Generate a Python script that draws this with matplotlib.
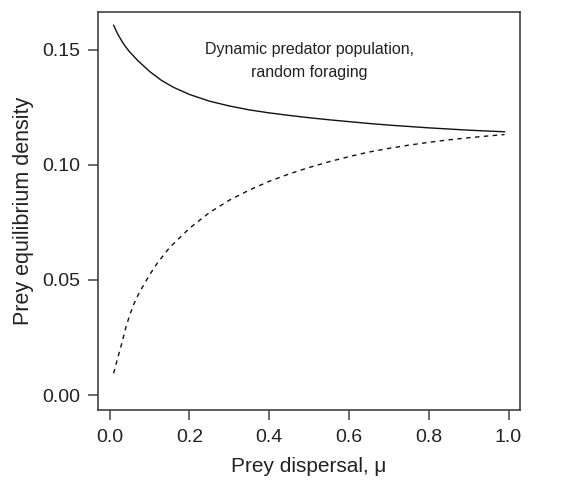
import matplotlib
matplotlib.use("Agg")
import matplotlib.pyplot as plt

# Prey dispersal (mu) values
mu_solid = [0.01, 0.02, 0.03, 0.04, 0.05, 0.07, 0.10, 0.13, 0.16, 0.20, 0.25, 0.30,
            0.35, 0.40, 0.45, 0.50, 0.55, 0.60, 0.65, 0.70, 0.75, 0.80, 0.85, 0.90,
            0.95, 0.99]
dens_solid = [0.1605, 0.1568, 0.1538, 0.1512, 0.1490, 0.1453, 0.1405, 0.1366, 0.1336,
              0.1305, 0.1276, 0.1255, 0.1238, 0.1225, 0.1214, 0.1204, 0.1195, 0.1187,
              0.1179, 0.1172, 0.1166, 0.1160, 0.1155, 0.1150, 0.1146, 0.1143]

mu_dashed = [0.01, 0.02, 0.03, 0.04, 0.05, 0.06, 0.07, 0.08, 0.10, 0.12, 0.15, 0.20,
             0.25, 0.30, 0.35, 0.40, 0.45, 0.50, 0.55, 0.60, 0.65, 0.70, 0.75, 0.80,
             0.85, 0.90, 0.95, 0.99]
dens_dashed = [0.0095, 0.0160, 0.0222, 0.0290, 0.0346, 0.0392, 0.0430, 0.0462, 0.0522,
               0.0574, 0.0640, 0.0724, 0.0792, 0.0846, 0.0890, 0.0928, 0.0960, 0.0988,
               0.1013, 0.1035, 0.1055, 0.1071, 0.1085, 0.1097, 0.1108, 0.1117, 0.1125,
               0.1131]

xticks = [0.0, 0.2, 0.4, 0.6, 0.8, 1.0]
yticks = [0.00, 0.05, 0.10, 0.15]

plt.rcParams['font.family'] = ['Liberation Sans', 'DejaVu Sans']

fig = plt.figure(figsize=(5.69, 4.80), dpi=100)
ax = fig.add_axes([0.1722, 0.146, 0.742, 0.8296])

ax.plot(mu_solid, dens_solid, color='#111111', lw=1.0)
ax.plot(mu_dashed, dens_dashed, color='#111111', lw=1.0, dashes=(3.2, 3.2))

ax.set_xlim(0.01 - 0.04 * 0.98, 0.99 + 0.04 * 0.98)
ax.set_ylim(0 - 0.04 * 0.16, 0.16 + 0.04 * 0.16)

ax.set_xticks(xticks)
ax.set_xticklabels([f"{v:.1f}" for v in xticks])
ax.set_yticks(yticks)
ax.set_yticklabels([f"{v:.2f}" for v in yticks])

for s in ax.spines.values():
    s.set_color('#333333')
    s.set_linewidth(1.1)

ax.tick_params(axis='both', length=7, width=1.1, color='#444444',
               labelsize=14, labelcolor='#222222')
ax.tick_params(axis='x', pad=7)
ax.tick_params(axis='y', pad=6)

ax.set_xlabel("Prey dispersal, \u03bc", fontsize=15, color='#222222', labelpad=8)
ax.set_ylabel("Prey equilibrium density", fontsize=15.5, color='#222222', labelpad=6)

ax.text(0.5, 0.150, "Dynamic predator population,", ha='center', va='center',
        fontsize=11.5, color='#222222')
ax.text(0.5, 0.140, "random foraging", ha='center', va='center',
        fontsize=11.5, color='#222222')

fig.savefig("out.png", dpi=100)
